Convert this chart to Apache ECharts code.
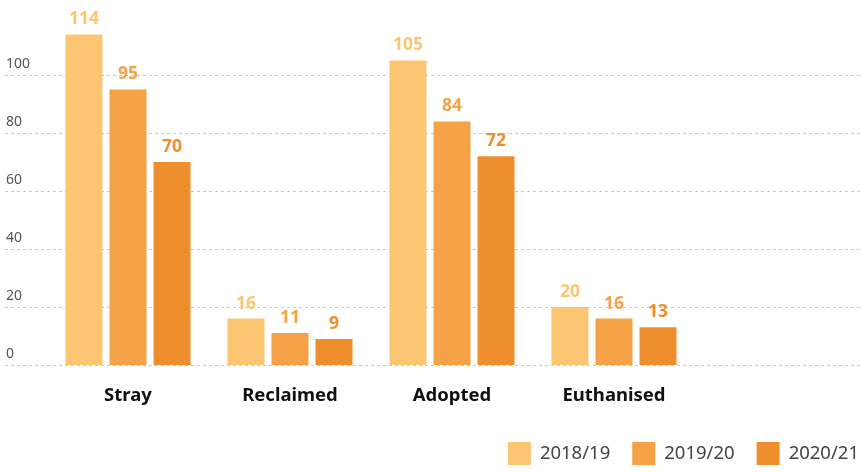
<!DOCTYPE html>
<html>
<head>
<meta charset="utf-8">
<script src="https://cdn.jsdelivr.net/npm/echarts@6/dist/echarts.min.js"></script>
<style>html,body{margin:0;padding:0;background:#fff;}#c{width:861px;height:472px;}</style>
</head>
<body>
<div id="c"></div>
<script>
var categories = ['Stray', 'Reclaimed', 'Adopted', 'Euthanised', ''];
var seriesNames = ['2018/19', '2019/20', '2020/21'];
var values2018 = [114, 16, 105, 20, null];
var values2019 = [95, 11, 84, 16, null];
var values2020 = [70, 9, 72, 13, null];
var yTicks = [0, 20, 40, 60, 80, 100];
var colors = ['#FBC571', '#F4A245', '#EF8E2D'];

var FONT = 'Noto Sans';
var chart = echarts.init(document.getElementById('c'), null, {renderer: 'canvas'});
function mk(name, data, i) {
  return {
    name: name, type: 'bar', data: data, xAxisIndex: 1, yAxisIndex: 1,
    barWidth: 37, barGap: '19%',
    itemStyle: {color: colors[i]},
    label: {show: true, position: 'top', distance: 6, color: colors[i],
      fontFamily: FONT, fontWeight: 'bold', fontSize: 17.5},
    emphasis: {disabled: true}
  };
}
chart.setOption({
  animation: false,
  textStyle: {fontFamily: FONT},
  legend: {
    data: seriesNames, right: -3, bottom: 2, itemWidth: 23, itemHeight: 23, itemGap: 22,
    icon: 'rect',
    textStyle: {fontFamily: FONT, fontSize: 18.5, color: '#444', padding: [0, 0, 0, 4]}
  },
  grid: [
    {left: 5, right: 0, top: 75, height: 290, containLabel: false},
    {left: 47, width: 810, top: 17, height: 348, containLabel: false}
  ],
  xAxis: [
    {gridIndex: 0, type: 'value', show: false, min: 0, max: 1},
    {gridIndex: 1, type: 'category', data: categories,
      axisLine: {show: false}, axisTick: {show: false},
      axisLabel: {margin: 21, color: '#111', fontFamily: FONT, fontWeight: 'bold', fontSize: 18.5}}
  ],
  yAxis: [
    {gridIndex: 0, type: 'value', min: 0, max: 100, interval: 20,
      axisLine: {show: false}, axisTick: {show: false},
      axisLabel: {inside: true, margin: 1, verticalAlign: 'bottom', padding: [0, 0, 4, 0],
        color: '#555', fontFamily: FONT, fontSize: 14,
        formatter: function (v) { return yTicks.indexOf(v) >= 0 ? String(v) : ''; }},
      splitLine: {show: true, lineStyle: {color: '#c8c8c8', type: [3, 3], width: 1}}
    },
    {gridIndex: 1, type: 'value', min: 0, max: 120, show: false, splitLine: {show: false}}
  ],
  series: [
    mk(seriesNames[0], values2018, 0),
    mk(seriesNames[1], values2019, 1),
    mk(seriesNames[2], values2020, 2)
  ]
});
</script>
</body>
</html>
